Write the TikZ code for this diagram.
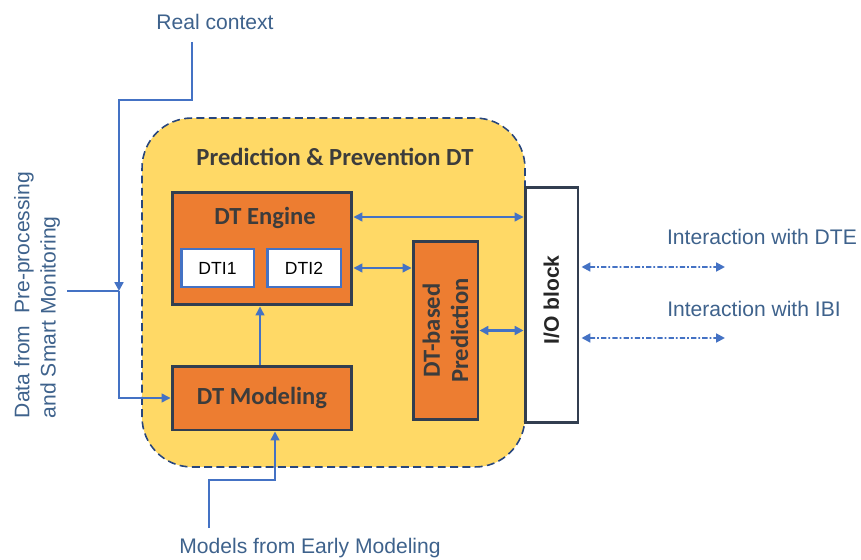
\documentclass[tikz,border=0pt]{standalone}
\usepackage{fontspec}
\setmainfont{Liberation Sans}
\newfontfamily\calibri{Carlito}
\usetikzlibrary{arrows.meta,positioning}
\definecolor{ppyellow}{RGB}{255,217,102}
\definecolor{pporange}{RGB}{237,125,49}
\definecolor{ppframe}{RGB}{50,62,80}
\definecolor{ppdash}{RGB}{40,70,125}
\definecolor{ppblue}{RGB}{68,114,196}
\definecolor{pplabel}{RGB}{62,98,140}
\definecolor{pptext}{RGB}{60,60,60}

\begin{document}
\begin{tikzpicture}[x=0.02cm,y=-0.02cm,
  region/.style={draw=ppdash,dash pattern=on 4.5pt off 2.5pt,fill=ppyellow,rounded corners=1cm,line width=0.9pt,inner sep=0pt},
  block/.style={draw=ppframe,fill=pporange,line width=1.7pt,inner sep=0pt},
  blocktext/.style={text=pptext,font=\calibri\bfseries\fontsize{14}{16}\selectfont},
  dtibox/.style={draw=ppblue,fill=white,line width=1.7pt,inner sep=0pt,minimum height=0.76cm,font=\fontsize{10}{12}\selectfont},
  outtext/.style={text=pplabel,font=\fontsize{12}{15}\selectfont},
  link/.style={ppblue,line width=0.8pt,{Triangle[length=5pt,width=5pt]}-{Triangle[length=5pt,width=5pt]}},
  feed/.style={ppblue,line width=0.8pt,-{Triangle[length=5pt,width=5pt]}},
  dotlink/.style={ppblue,line width=1.1pt,dash pattern=on 3pt off 1.2pt on 1pt off 1.2pt,{Triangle[length=5pt,width=5pt]}-{Triangle[length=5pt,width=5pt]}}
]
  \useasboundingbox (0,0) rectangle (861,560);
  \node[region,minimum width=7.66cm,minimum height=6.98cm] (ppdt) at (333.5,292.5) {};
  \node[blocktext] (ppdttitle) at (335,157) {Prediction \& Prevention DT};
  \node[block,minimum width=3.6cm,minimum height=2.26cm] (engine) at (262,248.5) {};
  \node[blocktext] (enginetitle) at (265,218) {DT Engine};
  \node[dtibox,minimum width=1.46cm] (dti1) at (217.5,268) {DTI1};
  \node[dtibox,minimum width=1.48cm] (dti2) at (304,268) {DTI2};
  \node[block,blocktext,minimum width=3.6cm,minimum height=1.28cm] (modeling) at (262,398) {DT Modeling};
  \node[block,minimum width=1.3cm,minimum height=3.58cm] (pred) at (445.5,330.5) {};
  \node[blocktext,rotate=90,align=center] (predtext) at (pred) {DT-based\\Prediction};
  \node[draw=ppframe,fill=white,line width=1.7pt,inner sep=0pt,minimum width=1.06cm,minimum height=4.72cm] (io) at (551.5,305) {};
  \node[rotate=90,font=\bfseries\fontsize{12}{14}\selectfont,text=black!85] (iotext) at (551.5,300) {I/O block};
  \draw[link] ([yshift=0.63cm]engine.east) -- ([yshift=0.63cm]engine.east -| io.west);
  \draw[link] ([yshift=-0.39cm]engine.east) -- ([yshift=-0.39cm]engine.east -| pred.west);
  \draw[link,line width=1.5pt] (pred.east) -- (pred.east -| io.west);
  \draw[feed] ([xshift=-0.04cm]modeling.north) -- ([xshift=-0.04cm]engine.south);
  \node[outtext] (context) at (215,22) {Real context};
  \coordinate (contextfoot) at (192,42);
  \coordinate (join) at (119,291);
  \coordinate (dataend) at (67,291);
  \draw[feed,line width=1.3pt] (contextfoot) -- ++(0,58) -| (join);
  \draw[ppblue,line width=0.8pt] (dataend) -- (join);
  \draw[feed] (join) |- (modeling.west);
  \node[outtext,rotate=90,align=left] (data) at (37,295) {Data from\ \ Pre-processing\\and Smart Monitoring};
  \node[outtext] (early) at (310,548) {Models from Early Modeling};
  \coordinate (earlyfoot) at (209,528);
  \draw[feed,line width=1pt] (earlyfoot) -- ++(0,-48) -| ([xshift=0.26cm]modeling.south);
  \coordinate (dteend) at (725,267);
  \coordinate (ibiend) at (725,338);
  \draw[dotlink] ([yshift=0.76cm,xshift=0.04cm]io.east) -- (dteend);
  \draw[dotlink] ([yshift=-0.66cm,xshift=0.04cm]io.east) -- (ibiend);
  \node[outtext] (dte) at (762,237) {Interaction with DTE};
  \node[outtext] (ibi) at (754,309) {Interaction with IBI};
\end{tikzpicture}
\end{document}
